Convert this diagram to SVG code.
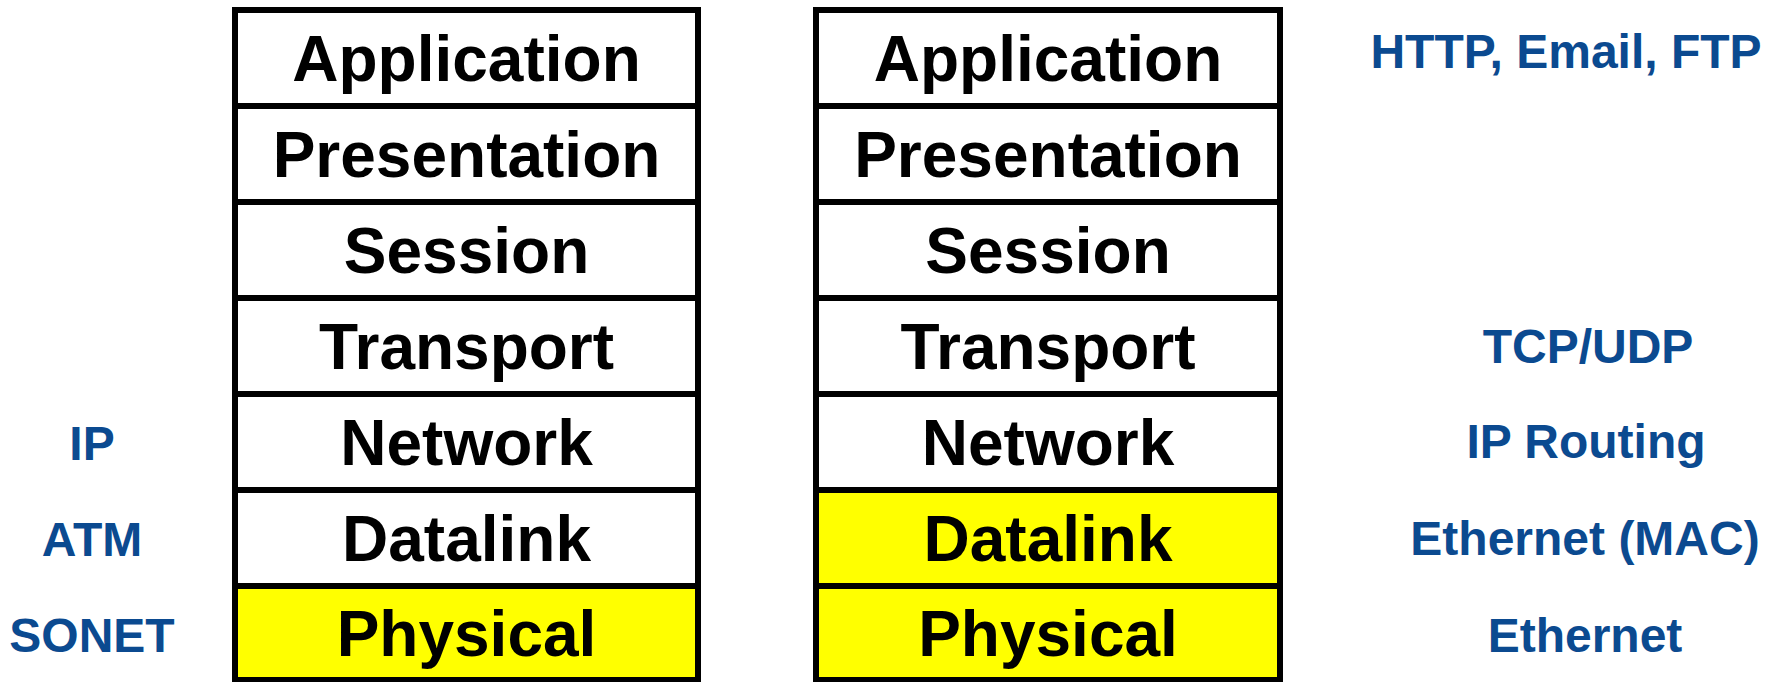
<svg xmlns="http://www.w3.org/2000/svg" width="1775" height="682" viewBox="0 0 1775 682">
  <style>
    .layer { fill: #ffffff; stroke: #000000; stroke-width: 6; }
    .hl { fill: #ffff00; }
    .name { font-family: "Liberation Sans", Arial, sans-serif; font-weight: bold; font-size: 64px; fill: #000000; text-anchor: middle; }
    .proto { font-family: "Liberation Sans", Arial, sans-serif; font-weight: bold; font-size: 48px; fill: #0b4a90; text-anchor: middle; }
  </style>
  <rect width="1775" height="682" fill="#ffffff"/>

  <!-- Left protocol stack -->
  <g id="left-stack">
    <g id="left-application"><rect class="layer" x="235" y="10" width="463" height="96"/><text class="name" x="466.5" y="81">Application</text></g>
    <g id="left-presentation"><rect class="layer" x="235" y="106" width="463" height="96"/><text class="name" x="466.5" y="177">Presentation</text></g>
    <g id="left-session"><rect class="layer" x="235" y="202" width="463" height="96"/><text class="name" x="466.5" y="273">Session</text></g>
    <g id="left-transport"><rect class="layer" x="235" y="298" width="463" height="96"/><text class="name" x="466.5" y="369">Transport</text></g>
    <g id="left-network"><rect class="layer" x="235" y="394" width="463" height="96"/><text class="name" x="466.5" y="465">Network</text></g>
    <g id="left-datalink"><rect class="layer" x="235" y="490" width="463" height="96"/><text class="name" x="466.5" y="561">Datalink</text></g>
    <g id="left-physical"><rect class="layer hl" x="235" y="586" width="463" height="94"/><text class="name" x="466.5" y="656">Physical</text></g>
  </g>

  <!-- Right protocol stack -->
  <g id="right-stack">
    <g id="right-application"><rect class="layer" x="816" y="10" width="464" height="96"/><text class="name" x="1048" y="81">Application</text></g>
    <g id="right-presentation"><rect class="layer" x="816" y="106" width="464" height="96"/><text class="name" x="1048" y="177">Presentation</text></g>
    <g id="right-session"><rect class="layer" x="816" y="202" width="464" height="96"/><text class="name" x="1048" y="273">Session</text></g>
    <g id="right-transport"><rect class="layer" x="816" y="298" width="464" height="96"/><text class="name" x="1048" y="369">Transport</text></g>
    <g id="right-network"><rect class="layer" x="816" y="394" width="464" height="96"/><text class="name" x="1048" y="465">Network</text></g>
    <g id="right-datalink"><rect class="layer hl" x="816" y="490" width="464" height="96"/><text class="name" x="1048" y="561">Datalink</text></g>
    <g id="right-physical"><rect class="layer hl" x="816" y="586" width="464" height="94"/><text class="name" x="1048" y="656">Physical</text></g>
  </g>

  <!-- Protocol labels, left side -->
  <g id="left-labels">
    <text class="proto" x="92" y="460">IP</text>
    <text class="proto" x="92" y="556">ATM</text>
    <text class="proto" x="92" y="652">SONET</text>
  </g>

  <!-- Protocol labels, right side -->
  <g id="right-labels">
    <text class="proto" x="1566" y="68">HTTP, Email, FTP</text>
    <text class="proto" x="1588" y="363">TCP/UDP</text>
    <text class="proto" x="1586" y="458">IP Routing</text>
    <text class="proto" x="1585" y="555">Ethernet (MAC)</text>
    <text class="proto" x="1585" y="652">Ethernet</text>
  </g>
</svg>
